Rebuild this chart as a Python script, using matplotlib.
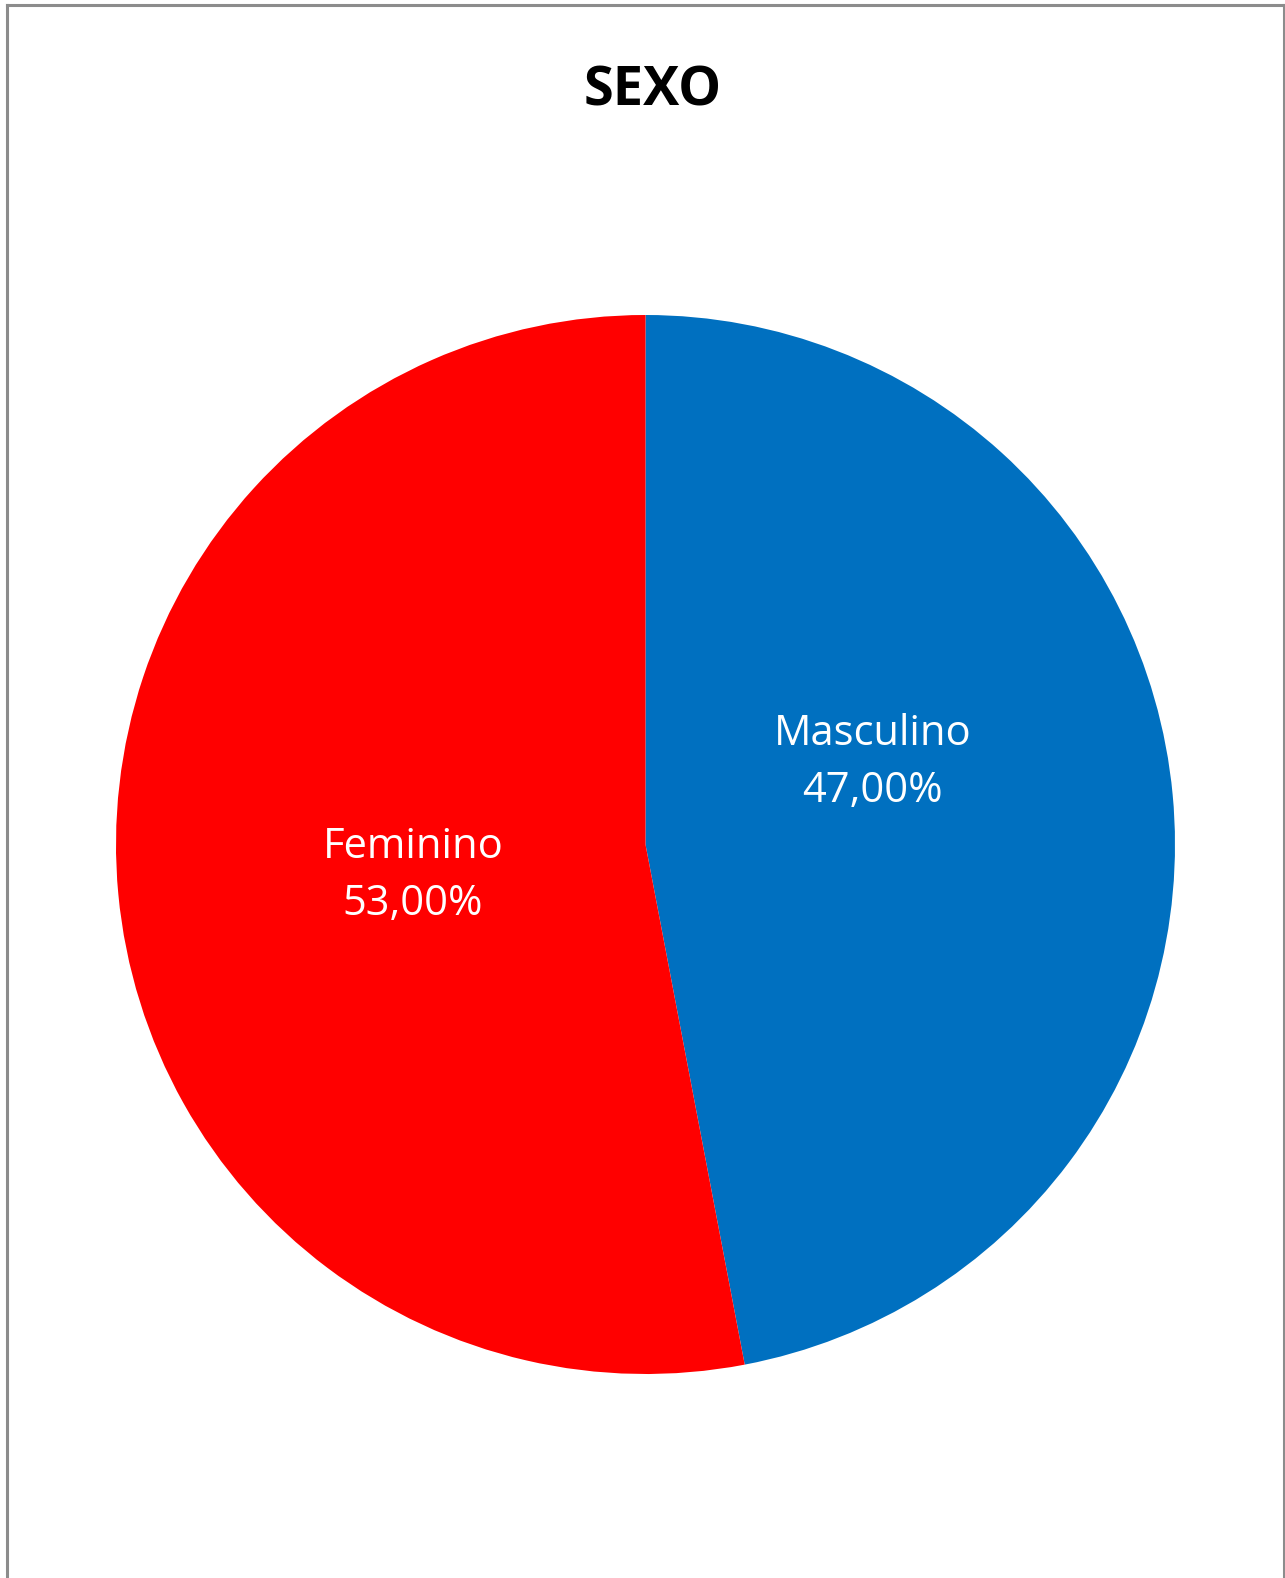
import matplotlib.pyplot as plt
from matplotlib.lines import Line2D

categories = ['Masculino', 'Feminino']
shares = [47.00, 53.00]
colors = ['#0070C0', '#FF0000']
title = 'SEXO'

W, H = 1285, 1578
fig = plt.figure(figsize=(W / 100, H / 100), dpi=100)
fig.patch.set_facecolor('white')

# chart frame (bottom edge is cut off in the original)
fx0, fx1, fy1 = 6.5 / W, 1283.5 / W, 1 - 4.5 / H
for xs, ys in [([fx0, fx0], [0, fy1]), ([fx0, fx1], [fy1, fy1]), ([fx1, fx1], [fy1, 0])]:
    fig.add_artist(Line2D(xs, ys, color='#8c8c8c', lw=2.2, transform=fig.transFigure))

# pie: centre (645.5, 844.5) radius 529.5 px
cx, cy, r = 645.5, 844.5, 529.5
ax = fig.add_axes([(cx - r) / W, 1 - (cy + r) / H, 2 * r / W, 2 * r / H])
ax.pie(shares, colors=colors, startangle=90, counterclock=False,
       wedgeprops=dict(edgecolor='none'))
ax.set_xlim(-1, 1)
ax.set_ylim(-1, 1)
ax.set_aspect('equal', adjustable='datalim')
ax.axis('off')

# label baselines (Excel "best fit"), in units of the radius: x, name line, value line
label_pos = [(0.4287, 0.1879, 0.0803), (-0.4391, -0.0255, -0.1331)]
for name, val, (lx, y1, y2) in zip(categories, shares, label_pos):
    ax.text(lx, y1, name, ha='center', va='baseline', color='white',
            fontsize=30, family='Open Sans')
    ax.text(lx, y2, f'{val:.2f}%'.replace('.', ','), ha='center', va='baseline',
            color='white', fontsize=30, family='Open Sans')

fig.text(652.5 / W, 1 - 105 / H, title, ha='center', va='baseline',
         fontsize=39, fontweight='bold', family='Open Sans')

fig.savefig('out.png', dpi=100)
